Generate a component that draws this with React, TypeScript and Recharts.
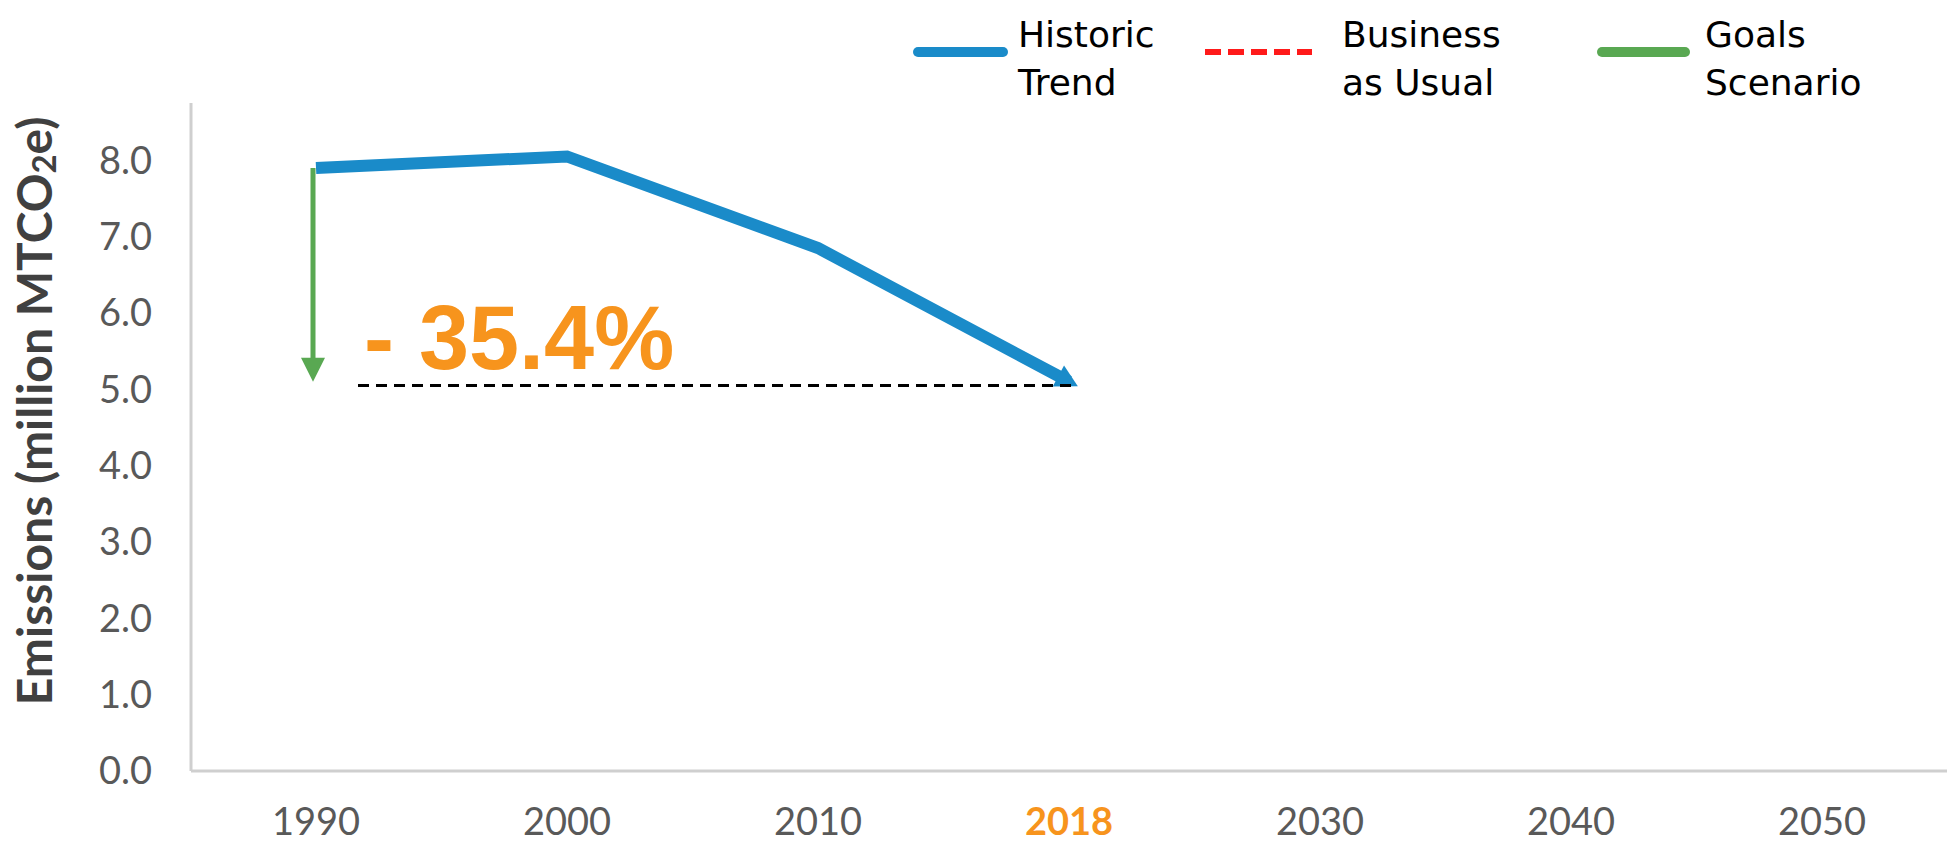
import { ComposedChart, Line, XAxis, YAxis, ReferenceLine, Legend } from 'recharts';

const years = ['1990', '2000', '2010', '2018', '2030', '2040', '2050'];
const historicTrend = [7.9, 8.05, 6.85, 5.1, null, null, null];
// goals arrow: 1990 level down to the 2018 level
const goalsDrop = [7.9, 5.1];
const baselineLevel = 5.05;
const yTicks = [0, 1, 2, 3, 4, 5, 6, 7, 8];
const highlightYear = '2018';
const changeLabel = '- 35.4%';
const legendLabels = [
  ['Historic', 'Trend'],
  ['Business', 'as Usual'],
  ['Goals', 'Scenario'],
];

const BLUE = '#1a8bc9';
const RED = '#ff1a1a';
const GREEN = '#59a852';
const ORANGE = '#f7941d';
const AXIS = '#cfcfcf';
const TICK = '#595959';

const data = years.map((year, i) => ({ year, historic: historicTrend[i] }));

function XTick({ x, y, payload }: any) {
  const hi = payload.value === highlightYear;
  return (
    <text
      x={x}
      y={y}
      dy="0.71em"
      textAnchor="middle"
      fontFamily="Lato"
      fontSize={38}
      fontWeight={hi ? 700 : 400}
      fill={hi ? ORANGE : TICK}
    >
      {payload.value}
    </text>
  );
}

function YTitle(props: any) {
  const vb = props.viewBox;
  const cx = vb.x + 33;
  const cy = vb.y + vb.height / 2 - 26;
  return (
    <text
      x={cx}
      y={cy}
      transform={`rotate(-90, ${cx}, ${cy})`}
      textAnchor="middle"
      dominantBaseline="central"
      fontFamily="Lato"
      fontWeight={700}
      fontSize={48}
      fill="#404040"
    >
      Emissions (million MTCO
      <tspan dy={10} fontSize={33}>2</tspan>
      <tspan dy={-10}>e)</tspan>
    </text>
  );
}

// arrow head at the end of the historic line, along its last segment
function TrendArrow({ x1, y1, x2, y2 }: any) {
  const a = Math.atan2(y2 - y1, x2 - x1);
  const c = Math.cos(a);
  const s = Math.sin(a);
  const tx = x2 + c * 10;
  const ty = y2 + s * 10;
  const bx = tx - c * 22;
  const by = ty - s * 22;
  const pts = [
    [tx, ty],
    [bx - s * 12, by + c * 12],
    [bx + s * 12, by - c * 12],
  ];
  return <polygon points={pts.map((p) => p.join(',')).join(' ')} fill={BLUE} />;
}

function GoalsArrow({ x1, y1, x2, y2 }: any) {
  return (
    <g>
      <line x1={x1 - 3} y1={y1} x2={x2 - 3} y2={y2 - 20} stroke={GREEN} strokeWidth={5} />
      <polygon
        points={`${x2 - 3},${y2} ${x2 - 15},${y2 - 24} ${x2 + 9},${y2 - 24}`}
        fill={GREEN}
      />
    </g>
  );
}

function ChangeMarker({ x1, y1, x2, y2 }: any) {
  return (
    <g>
      <line
        x1={x1 + 42}
        y1={y1}
        x2={x2 + 8}
        y2={y2}
        stroke="#000"
        strokeWidth={3}
        strokeDasharray="11 7"
      />
      <text
        x={x1 + 48}
        y={y1 - 16}
        fontFamily="Liberation Sans"
        fontWeight={700}
        fontSize={90}
        fill={ORANGE}
      >
        {changeLabel}
      </text>
    </g>
  );
}

const legendLook = [
  { color: BLUE, dash: undefined, cap: 'round', width: 10, x0: 18, x1: 103, tx: 118 },
  { color: RED, dash: '16 7', cap: 'butt', width: 6, x0: 305, x1: 412, tx: 442 },
  { color: GREEN, dash: undefined, cap: 'round', width: 10, x0: 702, x1: 785, tx: 805 },
];

function LegendBox() {
  return (
    <svg width={1055} height={110}>
      {legendLabels.map((lines, i) => {
        const l = legendLook[i];
        return (
          <g key={i}>
            <line
              x1={l.x0}
              y1={52}
              x2={l.x1}
              y2={52}
              stroke={l.color}
              strokeWidth={l.width}
              strokeDasharray={l.dash}
              strokeLinecap={l.cap as any}
            />
            <text x={l.tx} y={47} fontFamily="DejaVu Sans" fontSize={36} fill="#000">
              {lines[0]}
            </text>
            <text x={l.tx} y={95} fontFamily="DejaVu Sans" fontSize={36} fill="#000">
              {lines[1]}
            </text>
          </g>
        );
      })}
    </svg>
  );
}

export default function App() {
  return (
    <div style={{ position: 'absolute', left: 0, top: 0, background: '#fff' }}>
      <ComposedChart
        width={1955}
        height={843}
        data={data}
        margin={{ top: 103, right: 8, bottom: 0, left: 0 }}
      >
        <XAxis
          dataKey="year"
          height={72}
          padding={{ left: 125, right: 125 }}
          tickLine={false}
          tickSize={0}
          tickMargin={37}
          axisLine={{ stroke: AXIS, strokeWidth: 3 }}
          tick={<XTick />}
          interval={0}
        />
        <YAxis
          width={191}
          domain={[0, 8.75]}
          ticks={yTicks}
          tickFormatter={(v: number) => v.toFixed(1)}
          tickLine={false}
          tickSize={0}
          tickMargin={39}
          axisLine={{ stroke: AXIS, strokeWidth: 3 }}
          tick={{ fill: TICK, fontSize: 38, fontFamily: 'Lato' }}
          label={YTitle}
        />
        <Legend
          layout="horizontal"
          verticalAlign="middle"
          wrapperStyle={{ top: 0, left: 900, width: 1055, height: 110 }}
          content={<LegendBox />}
        />
        <Line
          dataKey="historic"
          stroke={BLUE}
          strokeWidth={12}
          strokeLinejoin="miter"
          dot={false}
          activeDot={false}
          isAnimationActive={false}
        />
        <ReferenceLine
          segment={[
            { x: years[2], y: historicTrend[2] as number },
            { x: years[3], y: historicTrend[3] as number },
          ]}
          shape={TrendArrow}
        />
        <ReferenceLine
          segment={[
            { x: years[0], y: goalsDrop[0] },
            { x: years[0], y: goalsDrop[1] },
          ]}
          shape={GoalsArrow}
        />
        <ReferenceLine
          segment={[
            { x: years[0], y: baselineLevel },
            { x: years[3], y: baselineLevel },
          ]}
          shape={ChangeMarker}
        />
      </ComposedChart>
    </div>
  );
}
